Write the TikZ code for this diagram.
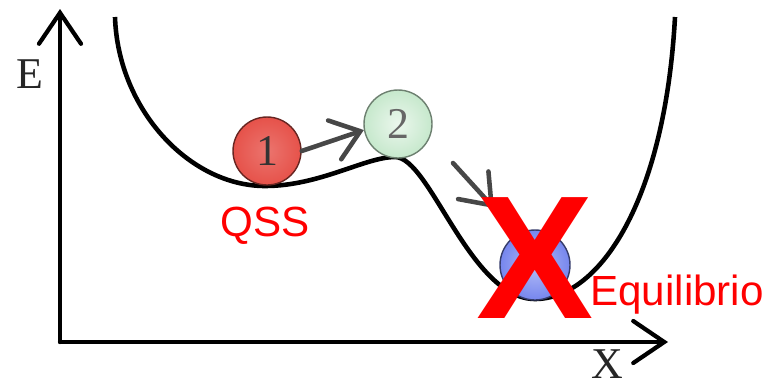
\documentclass[tikz,border=0pt]{standalone}
\usepackage{fontspec}
\usepackage{xcolor}
\usepackage{tikz}
\usetikzlibrary{arrows.meta,positioning}
\newfontfamily\labelfont{Liberation Sans}
\newfontfamily\axisfont{Liberation Serif}

\definecolor{ballred}{HTML}{E6524A}
\definecolor{ballgreen}{HTML}{C6E8CC}
\definecolor{ballblue}{HTML}{7686EE}

\begin{document}
\begin{tikzpicture}[
  x=0.02cm, y=-0.02cm,
  axis/.style={line width=2.4pt, line cap=round,
               -{Straight Barb[length=6.2mm, width=8.4mm, line cap=round]}},
  valley/.style={line width=2.6pt},
  ball/.style={circle, minimum size=13.6mm, inner sep=0pt, line width=0.8pt,
               font=\axisfont\fontsize{25}{25}\selectfont},
  move/.style={line width=2.6pt, draw=black!72, line cap=round,
               -{Straight Barb[length=5.4mm, width=8.2mm, line cap=round]}},
  tag/.style={text=red, font=\labelfont\fontsize{24}{24}\selectfont, inner sep=0pt},
  axlabel/.style={font=\axisfont\fontsize{25}{25}\selectfont, text=black!85, inner sep=0pt},
]
\useasboundingbox (0,0) rectangle (771,387);

% ---------- axes ----------
\coordinate (o) at (60,342);
\coordinate (etop) at (60,9);
\coordinate (xend) at (668,342);
\draw[axis] (o) -- (etop);
\draw[axis] (o) -- (xend);
\node[axlabel] (elabel) at (30,74) {E};
\node[axlabel] (xlabel) at (607,364) {X};

% ---------- energy curve ----------
\coordinate (top1) at (115,17);
\coordinate (min1) at (265,186);
\coordinate (peak) at (395,157);
\coordinate (min2) at (535,299);
\coordinate (top2) at (675,17);
\draw[valley] (top1) .. controls (118,110) and (190,186) .. (min1)
  .. controls (320,186) and (365,157) .. (peak)
  .. controls (430,157) and (470,299) .. (min2)
  .. controls (600,299) and (665,200) .. (top2);

% ---------- states ----------
\node[ball, draw=ballred!45!black, inner color=ballred!80!white, outer color=ballred,
      text=black!80] (b1) at (267,151) {1};
\node[ball, draw=ballgreen!55!black, inner color=ballgreen!35!white, outer color=ballgreen,
      text=black!60] (b2) at (398,124) {2};
\node[ball, minimum size=14mm, draw=ballblue!45!black, inner color=ballblue!55!white,
      outer color=ballblue] (b3) at (535,265) {};

\draw[move] (b1.east) -- (b2.190);
\coordinate (s2) at (453,163);
\coordinate (t2) at (494,208);
\draw[move] (s2) -- (t2);

% ---------- labels ----------
\node[tag, anchor=base] (qss) at (265,236) {QSS};
\node[tag, anchor=base west] (eq) at (590,305) {Equilibrio};
\node[text=red, inner sep=0pt, font=\labelfont\bfseries\fontsize{100}{100}\selectfont]
  (cross) at (535,258) {X};

\end{tikzpicture}
\end{document}
